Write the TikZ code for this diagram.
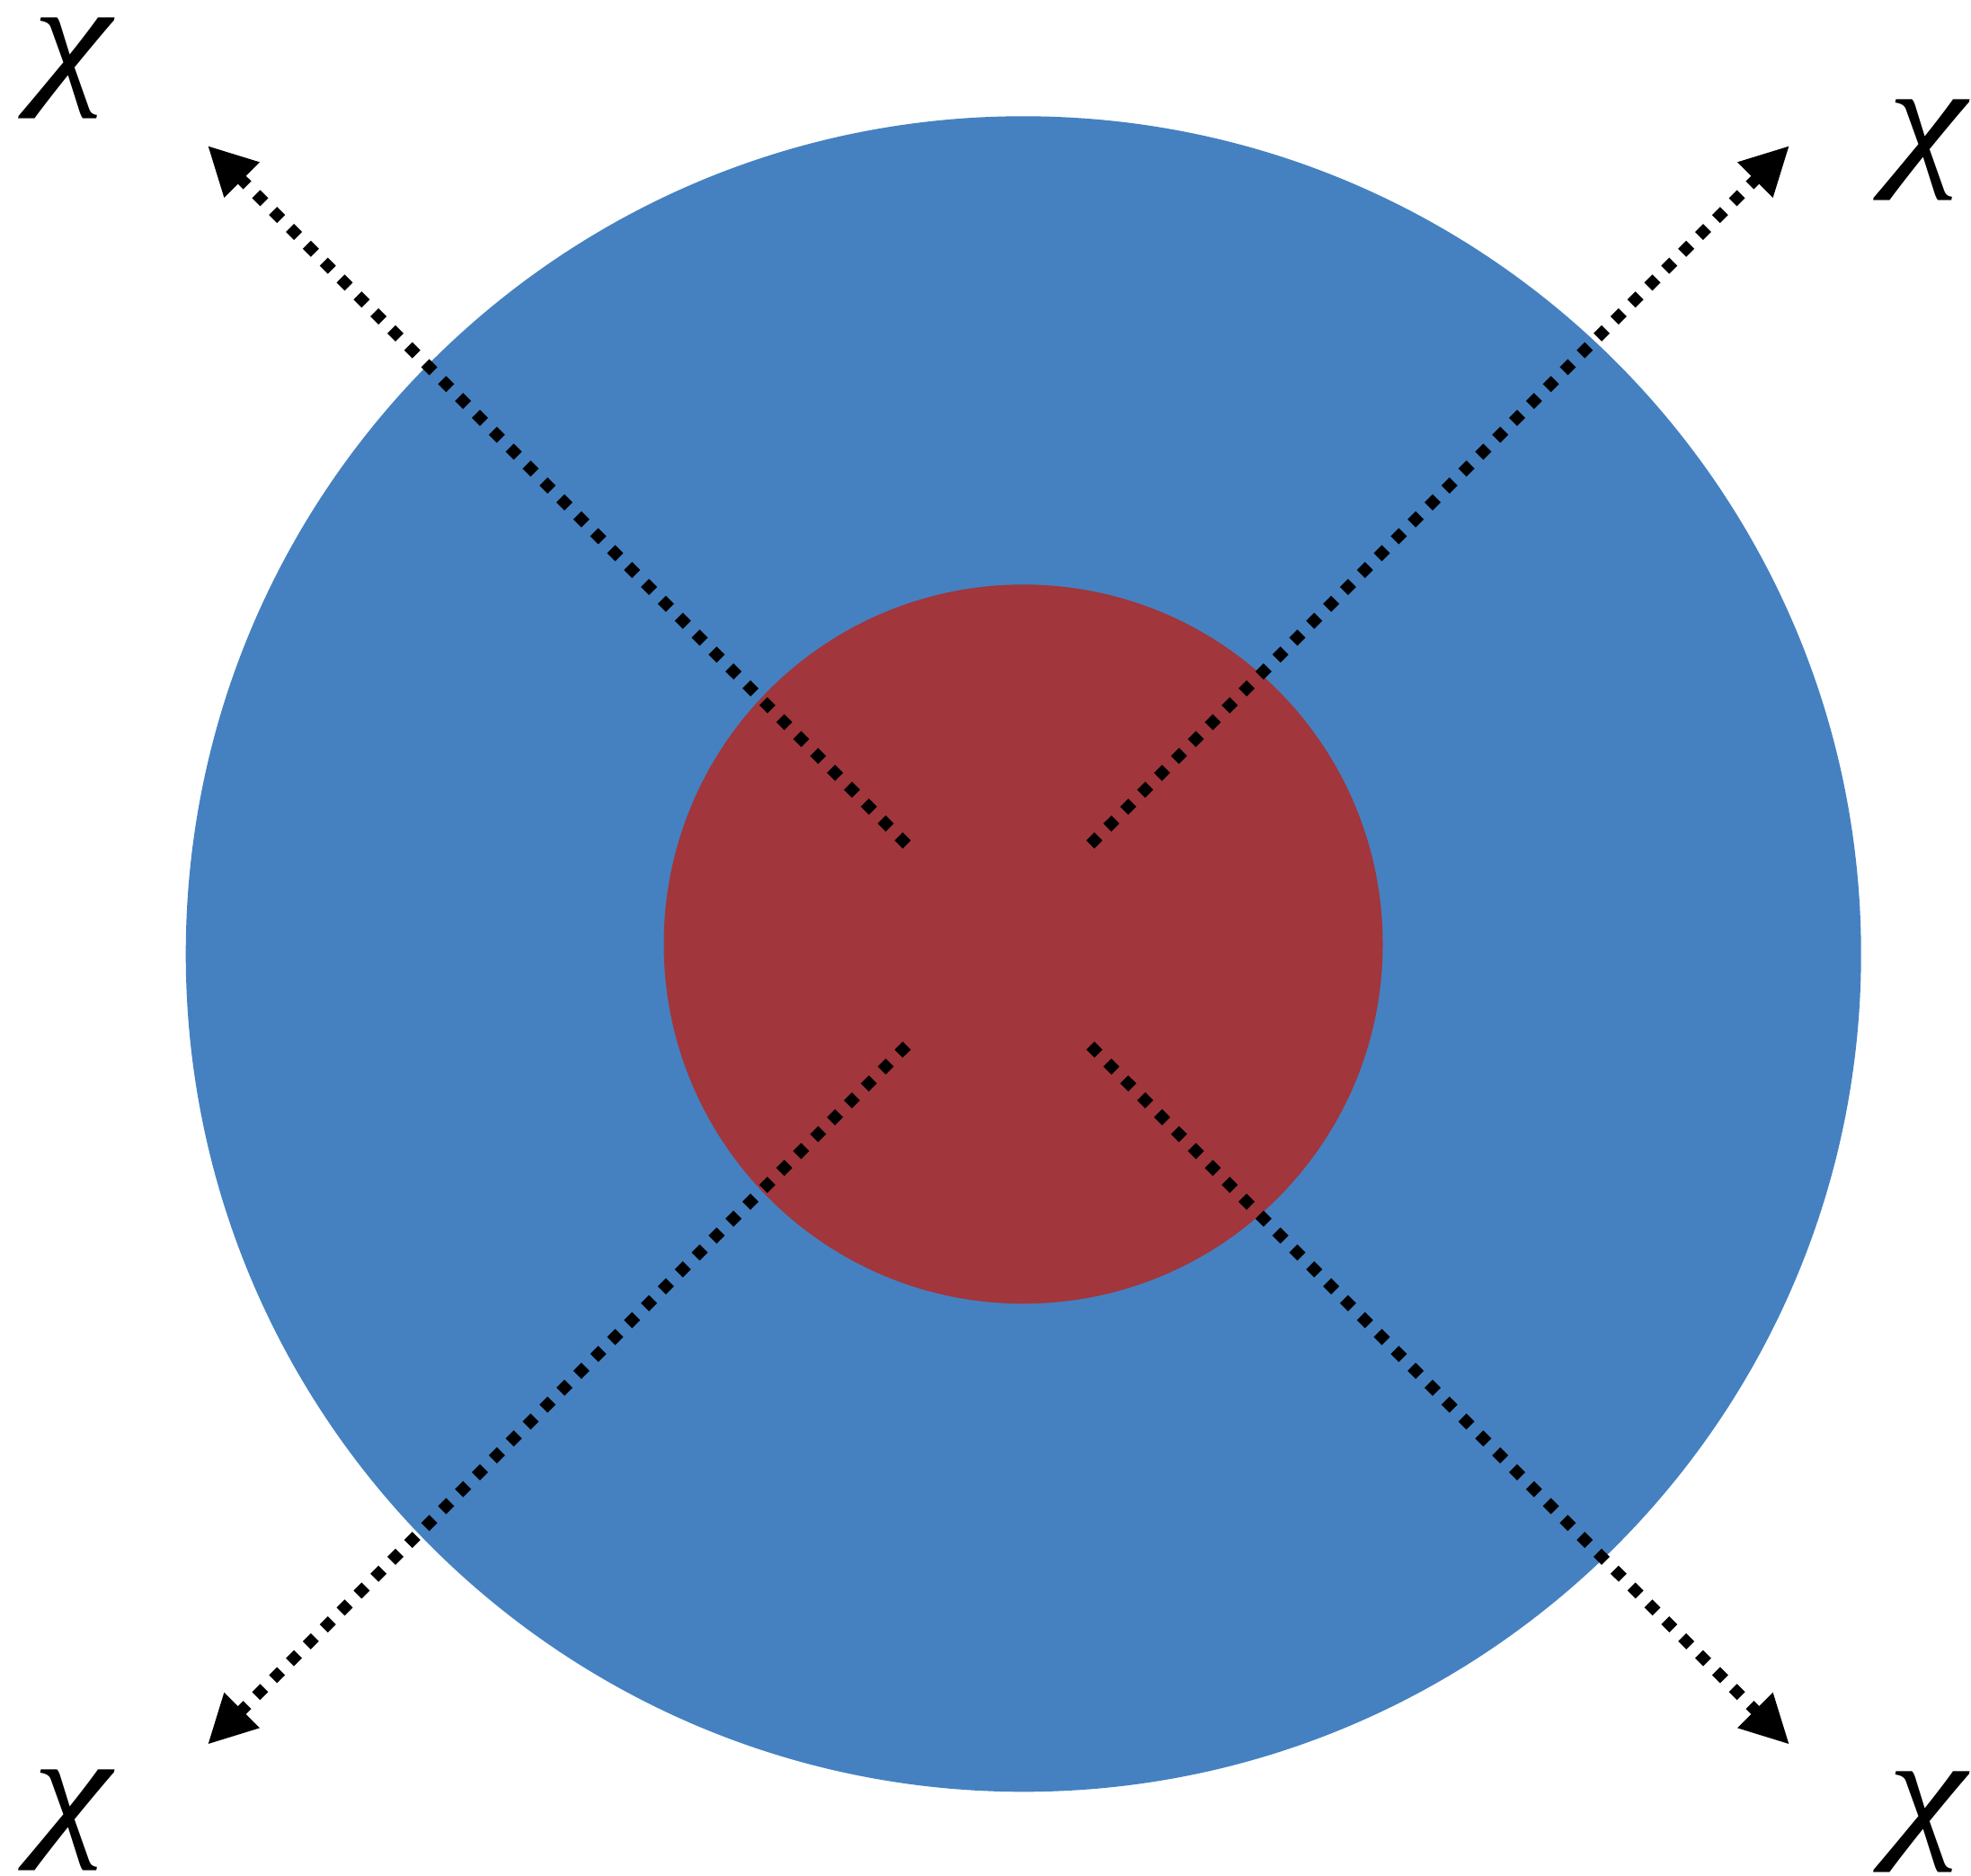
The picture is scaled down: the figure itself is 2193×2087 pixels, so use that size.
\documentclass[tikz,border=0pt]{standalone}
\usepackage{fontspec}
\usepackage{graphicx}
\newfontfamily\chifont{Liberation Serif}
\usetikzlibrary{arrows.meta}
\definecolor{outerblue}{RGB}{69,129,193}
\definecolor{innerred}{RGB}{161,54,60}
\newcommand{\widechi}{\scalebox{1.19}[1]{χ}}
\begin{document}
\begin{tikzpicture}[x=1pt,y=-1pt,
  disc/.style={circle, inner sep=0pt, outer sep=0pt},
  dotarrow/.style={line width=12.7pt, dash pattern=on 12.7pt off 13.9pt,
    -{Triangle[length=54pt,width=52pt]}},
  chilabel/.style={inner sep=0pt, font=\chifont\itshape\fontsize{167}{167}\selectfont}]
\useasboundingbox (0,0) rectangle (2193,2087);
\node[disc, fill=outerblue, minimum size=1864pt] (outer) at (1138.7,1061.3) {};
\node[disc, fill=innerred, minimum size=800pt] (inner) at (1138.5,1050.3) {};
% arrow ends
\coordinate (sUL) at (1008.8,939.5);
\coordinate (sUR) at (1213.2,939.5);
\coordinate (sLL) at (1008.8,1163.2);
\coordinate (sLR) at (1213.2,1163.2);
\coordinate (tUL) at (231,162);
\coordinate (tUR) at (1991,162);
\coordinate (tLL) at (231,1940.7);
\coordinate (tLR) at (1991,1940.7);
\draw[dotarrow] (sUL) -- (tUL);
\draw[dotarrow] (sUR) -- (tUR);
\draw[dotarrow] (sLL) -- (tLL);
\draw[dotarrow] (sLR) -- (tLR);
% labels
\node[chilabel] (cUL) at (80,76) {\widechi};
\node[chilabel] (cUR) at (2144,167) {\widechi};
\node[chilabel] (cLL) at (80,2025) {\widechi};
\node[chilabel] (cLR) at (2144,2027) {\widechi};
\end{tikzpicture}
\end{document}
